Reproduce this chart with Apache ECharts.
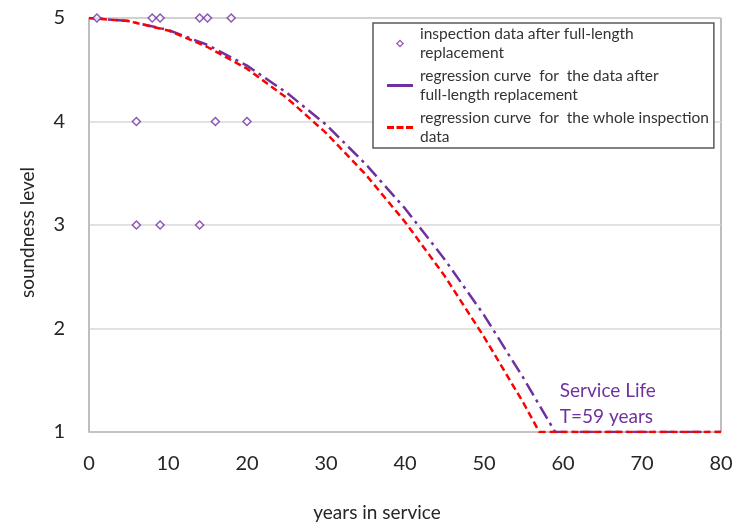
<!DOCTYPE html>
<html><head><meta charset="utf-8">
<script src="https://cdn.jsdelivr.net/npm/echarts@6/dist/echarts.min.js"></script>
<style>html,body{margin:0;padding:0;background:#fff}#c{width:737px;height:529px}</style>
</head><body><div id="c"></div>
<script>
// inspection data (years, soundness level)
const inspYears  = [1, 8, 9, 14, 15, 18, 6, 16, 20, 6, 9, 14];
const inspLevels = [5, 5, 5, 5, 5, 5, 4, 4, 4, 3, 3, 3];
// regression curve after full-length replacement
const regAfterYears  = [0, 5, 10, 15, 20, 25, 30, 35, 40, 45, 50, 55, 59, 80];
const regAfterLevels = [5, 4.97, 4.885, 4.74, 4.54, 4.28, 3.97, 3.59, 3.16, 2.67, 2.13, 1.52, 1.0, 1.0];
// regression curve for whole inspection data
const regAllYears  = [0, 5, 10, 15, 20, 25, 30, 35, 40, 45, 50, 55, 57, 80];
const regAllLevels = [5, 4.97, 4.88, 4.72, 4.51, 4.23, 3.89, 3.49, 3.03, 2.51, 1.92, 1.28, 1.0, 1.0];
const xTicks = [0, 10, 20, 30, 40, 50, 60, 70, 80];
const yTicks = [1, 2, 3, 4, 5];
const serviceLife = 59;

const names = [
  'inspection data after full-length\nreplacement',
  'regression curve  for  the data after\nfull-length replacement',
  'regression curve  for  the whole inspection\ndata'
];
const purple = '#7030A0', red = '#FF0000';
const font = 'Lato, "Open Sans", sans-serif';

const zip = (a, b) => a.map((v, i) => [v, b[i]]);

const chart = echarts.init(document.getElementById('c'));
chart.setOption({
  animation: false,
  grid: { left: 89, right: 16, top: 18, bottom: 97, show: true, borderColor: '#7f7f7f', borderWidth: 1 },
  xAxis: {
    type: 'value', min: xTicks[0], max: xTicks[xTicks.length - 1], interval: 10,
    name: 'years in service', nameLocation: 'middle', nameGap: 71,
    nameTextStyle: { fontFamily: font, fontSize: 19, color: '#262626', padding: [0, 56, 0, 0] },
    axisLine: { show: true, lineStyle: { color: '#bfbfbf', width: 1.5 } },
    axisTick: { show: false }, splitLine: { show: false },
    axisLabel: { fontFamily: font, fontSize: 20, color: '#262626', margin: 22 }
  },
  yAxis: {
    type: 'value', min: yTicks[0], max: yTicks[yTicks.length - 1], interval: 1,
    name: 'soundness level', nameLocation: 'middle', nameGap: 52, nameRotate: 90,
    nameTextStyle: { fontFamily: font, fontSize: 19, color: '#262626', padding: [0, 15, 0, 0] },
    axisLine: { show: true, lineStyle: { color: '#bfbfbf', width: 1.5 } },
    axisTick: { show: false },
    splitLine: { show: true, lineStyle: { color: '#d9d9d9', width: 1.5 } },
    axisLabel: { fontFamily: font, fontSize: 20, color: '#262626', margin: 24, padding: [4, 0, 0, 0] }
  },
  legend: {
    orient: 'vertical', left: 373, top: 23,
    padding: [1, 5, 1, 12], itemGap: 3, itemWidth: 30, itemHeight: 8,
    borderColor: '#595959', borderWidth: 1.5, backgroundColor: '#fff',
    textStyle: { fontFamily: font, fontSize: 15.5, color: '#333', lineHeight: 19.5 },
    data: [
      { name: names[0], icon: 'path://M0,-0.5 M30,8.5 M15,-0.5 L19.5,4 L15,8.5 L10.5,4 Z M15,1.5 L12.5,4 L15,6.5 L17.5,4 Z', itemStyle: { color: purple, borderWidth: 0 } },
      { name: names[1], icon: 'path://M2,0 L28,0 L28,3 L2,3 Z M0,-2.5 M30,5.5', itemStyle: { color: purple } },
      { name: names[2], icon: 'path://M2,0 L9,0 L9,3 L2,3 Z M11.5,0 L18.5,0 L18.5,3 L11.5,3 Z M21,0 L28,0 L28,3 L21,3 Z M0,-2.5 M30,5.5', itemStyle: { color: red } }
    ]
  },
  series: [
    {
      name: names[1], type: 'line', data: zip(regAfterYears, regAfterLevels),
      symbol: 'none', z: 2,
      lineStyle: { color: purple, width: 2.5, type: [14, 5, 3, 5] },
      itemStyle: { color: purple },
      markPoint: {
        symbol: 'circle', symbolSize: 0,
        data: [{ coord: [serviceLife + 0.6, 1.27] }],
        label: {
          show: true, position: 'right', distance: 0,
          formatter: 'Service Life\nT=' + serviceLife + ' years',
          fontFamily: font, fontSize: 19, color: purple, lineHeight: 26
        }
      }
    },
    {
      name: names[2], type: 'line', data: zip(regAllYears, regAllLevels),
      symbol: 'none', z: 3,
      lineStyle: { color: red, width: 2.5, type: [7, 4] },
      itemStyle: { color: red }
    },
    {
      name: names[0], type: 'scatter', data: zip(inspYears, inspLevels),
      symbol: 'diamond', symbolSize: 8, z: 4,
      itemStyle: { color: '#fff', borderColor: purple, borderWidth: 1.5 }
    }
  ]
});
</script></body></html>
